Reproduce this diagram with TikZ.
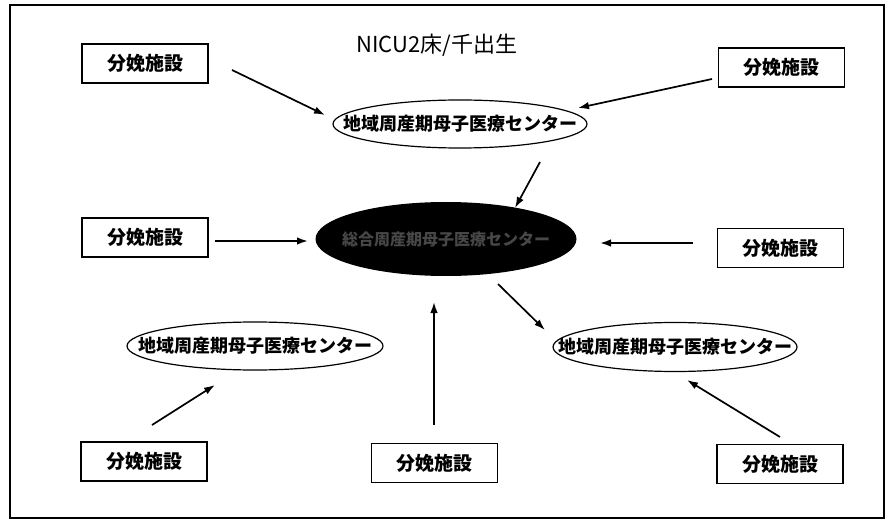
\documentclass[tikz,border=0pt]{standalone}
\usepackage{fontspec}
\newfontfamily\jp{Noto Sans CJK JP}
\usetikzlibrary{arrows.meta,shapes.geometric}
\tikzset{
  facility/.style={draw, line width=1.3pt, minimum width=126pt, minimum height=39pt, inner sep=0pt, font=\jp\bfseries\fontsize{19}{19}\selectfont},
  regional/.style={draw, ellipse, line width=1.2pt, inner sep=0pt, font=\jp\bfseries\fontsize{18}{18}\selectfont},
  general/.style={fill=black, ellipse, inner sep=0pt, text={black!72!white}, font=\jp\bfseries\fontsize{16}{16}\selectfont},
  arr/.style={line width=1.7pt, -{Latex[length=11pt,width=7.5pt]}},
}
\begin{document}
\begin{tikzpicture}[x=1pt,y=-1pt]
\useasboundingbox (0,0) rectangle (893,521);
\draw[line width=1.3pt] (10,5) rectangle (884,518);
\node[font=\jp\fontsize{22}{22}\selectfont] (title) at (437,45) {NICU2床/千出生};
% facilities
\node[facility] (b1) at (145,63.5) {分娩施設};
\node[facility] (b2) at (781.5,67.5) {分娩施設};
\node[facility] (b3) at (145,237.5) {分娩施設};
\node[facility] (b4) at (780.5,248) {分娩施設};
\node[facility] (b5) at (144,461.5) {分娩施設};
\node[facility] (b6) at (434.5,463) {分娩施設};
\node[facility] (b7) at (780,464) {分娩施設};
% regional centres
\node[regional, minimum width=254pt, minimum height=48pt] (e1) at (460,124) {\makebox[0pt]{地域周産期母子医療センター}};
\node[regional, minimum width=256pt, minimum height=48pt] (e2) at (255,346) {\makebox[0pt]{地域周産期母子医療センター}};
\node[regional, minimum width=244pt, minimum height=49pt] (e3) at (675,347) {\makebox[0pt]{地域周産期母子医療センター}};
% general centre
\node[general, minimum width=261pt, minimum height=74pt] (c) at (446,239) {\makebox[0pt]{総合周産期母子医療センター}};
% arrow end points
\coordinate (a1s) at (232,70);   \coordinate (a1e) at (325,115);
\coordinate (a2s) at (712,79);   \coordinate (a2e) at (578,108);
\coordinate (a3s) at (540,162);  \coordinate (a3e) at (515,208);
\coordinate (a4s) at (215,241);  \coordinate (a4e) at (308,241);
\coordinate (a5s) at (693,243);  \coordinate (a5e) at (600,243);
\coordinate (a6s) at (498,284);  \coordinate (a6e) at (545,330);
\coordinate (a7s) at (152,425);  \coordinate (a7e) at (215,385);
\coordinate (a8s) at (434,425);  \coordinate (a8e) at (434,302);
\coordinate (a9s) at (780,437);  \coordinate (a9e) at (687,380);
\draw[arr] (a1s) -- (a1e);
\draw[arr] (a2s) -- (a2e);
\draw[arr] (a3s) -- (a3e);
\draw[arr] (a4s) -- (a4e);
\draw[arr] (a5s) -- (a5e);
\draw[arr] (a6s) -- (a6e);
\draw[arr] (a7s) -- (a7e);
\draw[arr] (a8s) -- (a8e);
\draw[arr] (a9s) -- (a9e);
\end{tikzpicture}
\end{document}
